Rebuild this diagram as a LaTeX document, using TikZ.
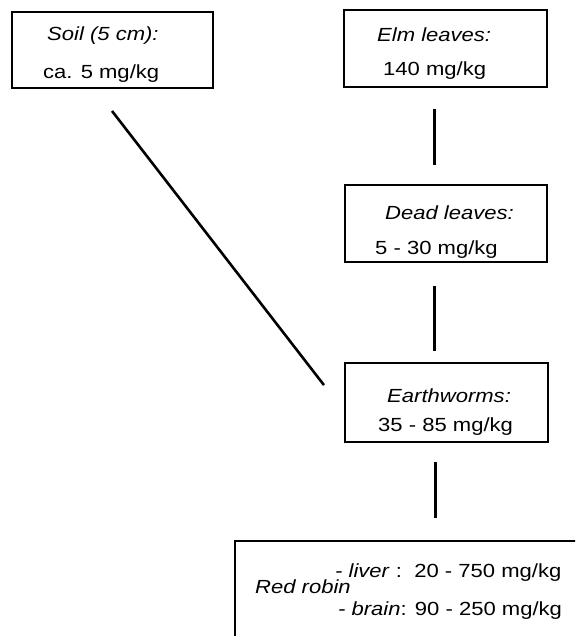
\documentclass[tikz,border=0pt]{standalone}
\usepackage{fontspec}
\setmainfont{Liberation Sans}[FakeStretch=1.16]
\begin{document}
\begin{tikzpicture}[x=1pt,y=1pt,
  frame/.style={draw=black, line width=2pt, rectangle, inner sep=0pt},
  lbl/.style={anchor=base west, inner sep=0pt, font=\fontsize{19}{22}\selectfont},
  link/.style={draw=black, line width=3pt},
  slant/.style={draw=black, line width=2.6pt}]
\useasboundingbox (0,0) rectangle (575,-636);
\clip (0,0) rectangle (575,-636);

% compartment boxes
\node[frame, minimum width=201pt, minimum height=76pt] (soil)  at (112.5,-50)  {};
\node[frame, minimum width=203pt, minimum height=77pt] (elm)   at (445.5,-48.5) {};
\node[frame, minimum width=202pt, minimum height=77pt] (dead)  at (446,-223.5) {};
\node[frame, minimum width=203pt, minimum height=79pt] (earth) at (446.5,-402.5) {};
\node[frame, minimum width=365pt, minimum height=119pt] (robin) at (417.5,-600.5) {};

% concentrations
\node[lbl] (soilA)  at (47,-41)  {\textit{Soil (5 cm):}};
\node[lbl] (soilB)  at (43,-79)  {ca. 5 mg/kg};
\node[lbl] (elmA)   at (377,-42) {\textit{Elm leaves:}};
\node[lbl] (elmB)   at (383,-76) {140 mg/kg};
\node[lbl] (deadA)  at (385,-219) {\textit{Dead leaves:}};
\node[lbl] (deadB)  at (375,-254) {5 - 30 mg/kg};
\node[lbl] (earthA) at (387,-402) {\textit{Earthworms:}};
\node[lbl] (earthB) at (378,-431) {35 - 85 mg/kg};
\node[lbl] (robinA) at (335,-577) {\textit{- liver} :\ \ 20 - 750 mg/kg};
\node[lbl] (robinB) at (255,-593) {\textit{Red robin}};
\node[lbl] (robinC) at (338,-615) {\textit{- brain}: 90 - 250 mg/kg};

% transfer links
\draw[link, shorten <=21pt, shorten >=19pt]
  ([xshift=-11.5pt]elm.south) -- ([xshift=-12pt]dead.north);
\draw[link, shorten <=23pt, shorten >=11pt]
  ([xshift=-12pt]dead.south) -- ([xshift=-12.5pt]earth.north);
\draw[link, shorten <=19pt, shorten >=22pt]
  ([xshift=-11.5pt]earth.south) -- ([xshift=17.5pt]robin.north);
\draw[slant, shorten <=27.8pt, shorten >=32.8pt]
  ([xshift=-17.5pt]soil.south) -- ([yshift=-8.5pt]earth.west);
\end{tikzpicture}
\end{document}
